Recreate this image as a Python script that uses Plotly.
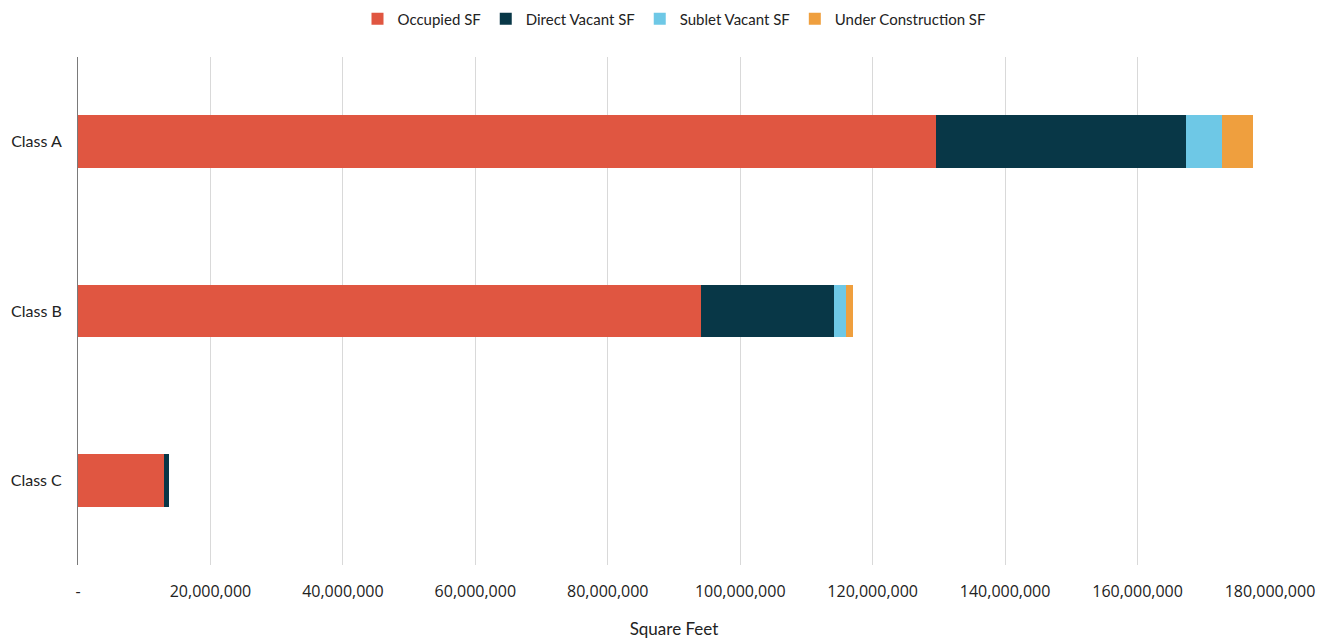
import plotly.graph_objects as go

categories = ["Class A", "Class B", "Class C"]
occupied = [129.5e6, 94.1e6, 13.0e6]
direct_vacant = [37.8e6, 20.0e6, 0.7e6]
sublet_vacant = [5.4e6, 1.9e6, 0.0]
under_construction = [4.8e6, 1.0e6, 0.0]

tick_vals = [0, 20e6, 40e6, 60e6, 80e6, 100e6, 120e6, 140e6, 160e6, 180e6]
tick_text = ["-", "20,000,000", "40,000,000", "60,000,000", "80,000,000",
             "100,000,000", "120,000,000", "140,000,000", "160,000,000", "180,000,000"]

series = [
    ("Occupied SF", occupied, "#E05641"),
    ("Direct Vacant SF", direct_vacant, "#083747"),
    ("Sublet Vacant SF", sublet_vacant, "#6EC8E6"),
    ("Under Construction SF", under_construction, "#EF9F3E"),
]

fig = go.Figure()
for name, vals, color in series:
    fig.add_trace(go.Bar(
        y=categories, x=vals, name=name, orientation="h",
        marker=dict(color=color, line=dict(width=0)),
        width=0.31,
    ))

fig.update_layout(
    barmode="stack",
    width=1337, height=639,
    margin=dict(l=78, r=67, t=57, b=74),
    plot_bgcolor="white", paper_bgcolor="white",
    font=dict(family="Lato", size=15, color="#222222"),
    legend=dict(orientation="h", x=0.5, xanchor="center", y=0.996, yanchor="top",
                yref="container", font=dict(size=15), itemwidth=30,
                traceorder="normal"),
    xaxis=dict(
        range=[0, 180e6], tickvals=tick_vals, ticktext=tick_text,
        showgrid=True, gridcolor="#d9d9d9", gridwidth=1,
        zeroline=False, showline=False, ticks="",
        tickfont=dict(family="Open Sans", size=16, color="#222222"),
        ticklabelstandoff=15, automargin=False,
        title=dict(text="Square Feet", font=dict(family="Lato", size=17), standoff=22),
    ),
    yaxis=dict(
        autorange="reversed", showline=True, linecolor="#7a7a7a", linewidth=1,
        ticks="", showgrid=False, automargin=False,
        tickfont=dict(family="Lato", size=16, color="#222222"),
        ticklabelstandoff=12,
    ),
)

fig.write_html("out.html")
